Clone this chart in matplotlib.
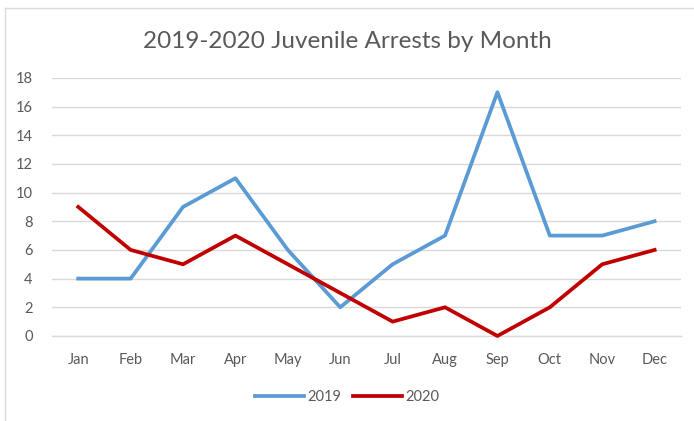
import matplotlib.pyplot as plt
from matplotlib.lines import Line2D

months = ["Jan", "Feb", "Mar", "Apr", "May", "Jun", "Jul", "Aug", "Sep", "Oct", "Nov", "Dec"]
arrests_2019 = [4, 4, 9, 11, 6, 2, 5, 7, 17, 7, 7, 8]
arrests_2020 = [9, 6, 5, 7, 5, 3, 1, 2, 0, 2, 5, 6]

plt.rcParams['font.family'] = ['Lato', 'DejaVu Sans']

fig = plt.figure(figsize=(6.94, 4.21), dpi=100)
ax = fig.add_axes([0.075, 0.202, 0.906, 0.613])

# chart border (left and top edges only, the rest is cropped in the original)
border = dict(transform=fig.transFigure, color="#D9D9D9", linewidth=1)
fig.lines.append(Line2D([4.5 / 694, 4.5 / 694], [0, 1 - 8 / 421], **border))
fig.lines.append(Line2D([4.5 / 694, 1], [1 - 8 / 421, 1 - 8 / 421], **border))

x = range(len(months))
ax.plot(x, arrests_2019, color="#5B9BD5", linewidth=2.7, label="2019", clip_on=False, zorder=3)
ax.plot(x, arrests_2020, color="#C00000", linewidth=2.7, label="2020", clip_on=False, zorder=4)

ax.set_xlim(-0.5, len(months) - 0.5)
ax.set_ylim(0, 18)
ax.set_yticks(range(0, 19, 2))
ax.set_xticks(list(x))
ax.set_xticklabels(months)
ax.grid(axis="y", color="#D9D9D9", linewidth=1)
ax.axhline(0, color="#D9D9D9", linewidth=1, clip_on=False, zorder=1)
ax.set_axisbelow(True)
for s in ax.spines.values():
    s.set_visible(False)
ax.tick_params(length=0, labelsize=10.5, colors="#595959")
ax.tick_params(axis="x", pad=12)
ax.tick_params(axis="y", pad=14)

fig.text(0.5, 1 - 42 / 421, "2019-2020 Juvenile Arrests by Month", ha="center", va="center",
         fontsize=17.5, color="#595959")
fig.legend(loc="center", bbox_to_anchor=(0.5, 1 - 397 / 421), ncol=2, frameon=False,
           fontsize=10.5, handlelength=3.4, handletextpad=0.2, columnspacing=0.8,
           labelcolor="#595959")

fig.savefig("out.png", dpi=100)
